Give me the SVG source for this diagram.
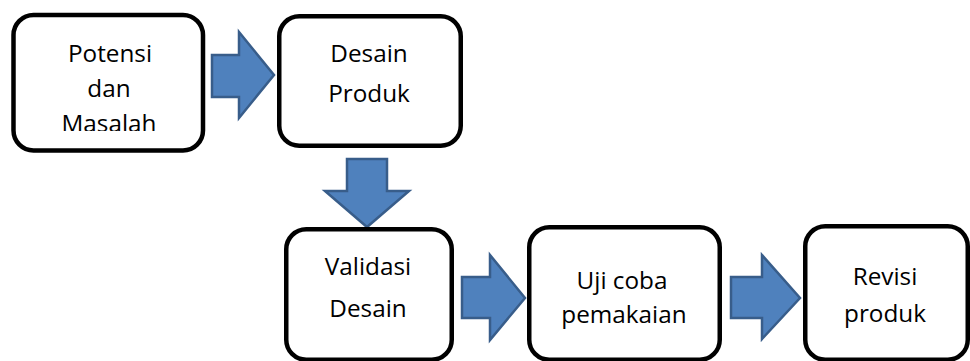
<svg xmlns="http://www.w3.org/2000/svg" width="970" height="361" viewBox="0 0 970 361">
<defs>
<style>
.box{fill:#fff;stroke:#000;stroke-width:4.5}
.lbl{font-family:"Open Sans","Noto Sans",sans-serif;font-size:24.3px;fill:#000;text-anchor:middle}
.arr{fill:#4F81BD;stroke:#385D8A;stroke-width:2.5;stroke-linejoin:miter}
</style>
<clipPath id="c1"><rect x="14" y="15" width="188" height="116"/></clipPath>
</defs>
<rect width="970" height="361" fill="#fff"/>
<g id="connectors">
<polygon class="arr" points="212,55 239,55 239,32 274,75 239,118 239,97 212,97"/>
<polygon class="arr" points="347,159 387,159 387,191 409,191 367,227 325,191 347,191"/>
<polygon class="arr" points="462,277 490,277 490,255 525,298 490,340 490,318 462,318"/>
<polygon class="arr" points="731,277 762,277 762,255 800,298 762,339 762,318 731,318"/>
</g>
<g id="potensi">
<rect class="box" x="13.5" y="15" width="189.5" height="135.5" rx="20"/>
<g clip-path="url(#c1)">
<text class="lbl" x="110" y="62">Potensi</text>
<text class="lbl" x="109" y="97">dan</text>
<text class="lbl" x="109" y="132">Masalah</text>
</g>
</g>
<g id="desain">
<rect class="box" x="279.25" y="16.25" width="181.5" height="129.5" rx="20"/>
<text class="lbl" x="369" y="62">Desain</text>
<text class="lbl" x="369" y="102">Produk</text>
</g>
<g id="validasi">
<rect class="box" x="286.25" y="229.25" width="165.5" height="130.5" rx="20"/>
<text class="lbl" x="368" y="275">Validasi</text>
<text class="lbl" x="368" y="317">Desain</text>
</g>
<g id="ujicoba">
<rect class="box" x="529.25" y="227.25" width="190.5" height="132.5" rx="20"/>
<text class="lbl" x="622" y="289">Uji coba</text>
<text class="lbl" x="624" y="323">pemakaian</text>
</g>
<g id="revisi">
<rect class="box" x="805.25" y="226.25" width="162.5" height="133.5" rx="20"/>
<text class="lbl" x="885" y="285">Revisi</text>
<text class="lbl" x="885" y="322">produk</text>
</g>
</svg>
